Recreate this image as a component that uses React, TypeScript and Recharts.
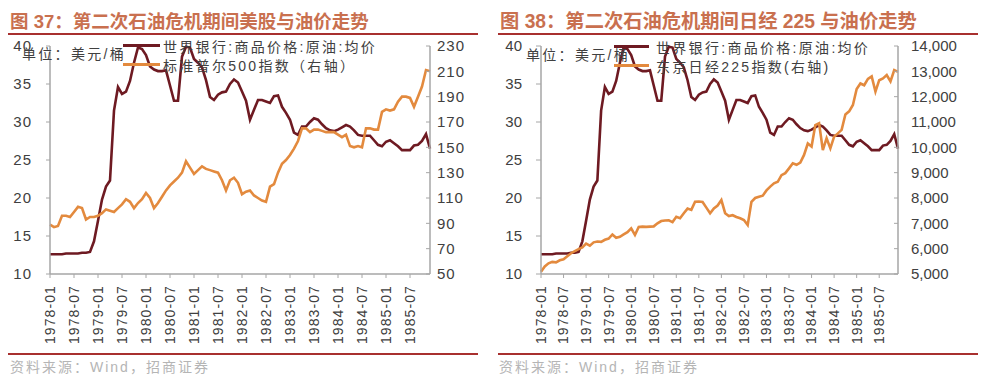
import React from 'react';
import { LineChart, Line, XAxis, YAxis, Legend } from 'recharts';

const FONT = '"Liberation Sans", Arial, "Noto Sans CJK SC", sans-serif';

const years = [1978, 1979, 1980, 1981, 1982, 1983, 1984, 1985];
const monthCodes = ['01', '02', '03', '04', '05', '06', '07', '08', '09', '10', '11', '12'];
const dates = years.flatMap((y) => monthCodes.map((m) => `${y}-${m}`));

// 世界银行:商品价格:原油:均价 (美元/桶)
const oilPrice = [
  12.6, 12.6, 12.6, 12.6, 12.7, 12.7, 12.7, 12.7, 12.8, 12.8,
  12.9, 14.3, 17.0, 19.8, 21.5, 22.3, 31.5, 34.6, 33.7, 34.0,
  35.4, 37.8, 39.8, 39.6, 38.8, 37.3, 36.9, 36.7, 36.7, 36.8,
  34.8, 32.8, 32.8, 38.6, 39.9, 39.8, 38.3, 37.8, 37.2, 35.5,
  33.3, 32.9, 33.6, 33.9, 34.0, 35.0, 35.6, 35.2, 34.0, 32.8,
  30.3, 31.6, 32.9, 32.9, 32.7, 32.5, 33.4, 33.5, 32.0, 31.2,
  30.3, 28.6, 28.3, 29.4, 29.4, 30.0, 30.5, 30.3, 29.7, 29.2,
  28.9, 28.8, 29.0, 29.3, 29.6, 29.4, 28.9, 28.3, 28.2, 28.2,
  28.2, 27.6, 27.0, 26.8, 27.4, 27.6, 27.2, 26.8, 26.3, 26.3,
  26.3, 26.9, 27.0, 27.5, 28.4, 26.5,
];

// 标准普尔500指数
const sp500 = [
  89, 87, 88, 96, 96, 95, 99, 103, 102, 93,
  95, 95, 96, 98, 101, 100, 99, 102, 105, 109,
  107, 102, 106, 109, 114, 110, 102, 106, 111, 116,
  120, 123, 126, 130, 139, 134, 129, 132, 135, 133,
  132, 131, 130, 124, 116, 124, 126, 122, 113, 115,
  116, 112, 110, 108, 107, 119, 121, 130, 137, 140,
  144, 149, 155, 165, 165, 162, 164, 164, 163, 162,
  162, 162, 160, 158, 160, 151, 150, 151, 150, 165,
  165, 164, 164, 178, 180, 179, 180, 186, 190, 190,
  189, 182, 190, 198, 211, 210,
];

// 东京日经225指数
const nikkei225 = [
  5090, 5300, 5420, 5480, 5460, 5540, 5580, 5700, 5820, 5900,
  5980, 6050, 6200, 6120, 6250, 6280, 6270, 6350, 6400, 6560,
  6430, 6470, 6560, 6650, 6800, 6540, 6860, 6870, 6860, 6870,
  6880, 7000, 7090, 7110, 7120, 7050, 7260, 7200, 7400, 7580,
  7530, 7850, 7860, 7840, 7620, 7400, 7590, 7700, 7920, 7400,
  7290, 7320, 7250, 7200, 7130, 6930, 7850, 8000, 8050, 8090,
  8300, 8450, 8580, 8640, 8900, 8980, 9170, 9370, 9310, 9400,
  9700, 10150, 10030, 10880, 10950, 9890, 10360, 9960, 10420, 10550,
  10690, 11300, 11420, 11670, 12300, 12520, 12450, 12700, 12800, 12200,
  12650, 12720, 12850, 12600, 13050, 12980,
];

const oilTicks = [10, 15, 20, 25, 30, 35, 40];
const spTicks = [50, 70, 90, 110, 130, 150, 170, 190, 210, 230];
const nikkeiTicks = [5000, 6000, 7000, 8000, 9000, 10000, 11000, 12000, 13000, 14000];

const oilName = '世界银行:商品价格:原油:均价';
const spName = '标准普尔500指数（右轴）';
const nikkeiName = '东京日经225指数(右轴)';

const usData = dates.map((d, i) => ({ date: d, oil: oilPrice[i], sp: sp500[i] }));
const jpData = dates.map((d, i) => ({ date: d, oil: oilPrice[i], nk: nikkei225[i] }));

const OIL_COLOR = '#6e1a22';
const IDX_COLOR = '#e38a3e';
const AXIS_COLOR = '#a6a6a6';
const TEXT_COLOR = '#404040';

const XTick = (props: any) => {
  const { x, y, payload } = props;
  return (
    <text
      x={x}
      y={y}
      transform={`rotate(-90, ${x}, ${y})`}
      textAnchor="end"
      dy="0.35em"
      fontSize={14}
      letterSpacing={1.1}
      fill={TEXT_COLOR}
      fontFamily={FONT}
    >
      {payload.value}
    </text>
  );
};

const makeLegend = (swatchW: number, gap: number) => (props: any) => {
  const payload = props.payload || [];
  return (
    <div style={{ fontFamily: FONT, fontSize: 14, color: TEXT_COLOR, letterSpacing: 2.3 }}>
      {payload.map((e: any) => (
        <div
          key={e.value}
          style={{ display: 'flex', alignItems: 'center', height: 19, whiteSpace: 'nowrap' }}
        >
          <span
            style={{
              display: 'inline-block',
              width: swatchW,
              height: 3,
              background: e.color,
              marginRight: gap,
            }}
          />
          <span>{e.value}</span>
        </div>
      ))}
    </div>
  );
};

const titleStyle = (left: number, size: number): React.CSSProperties => ({
  position: 'absolute',
  left,
  top: 12,
  fontFamily: FONT,
  fontSize: size,
  lineHeight: '20px',
  fontWeight: 700,
  color: '#c9704f',
  whiteSpace: 'nowrap',
});

const ruleStyle = (left: number, top: number, width: number): React.CSSProperties => ({
  position: 'absolute',
  left,
  top,
  width,
  height: 2,
  background: '#a8302f',
});

const sourceStyle = (left: number): React.CSSProperties => ({
  position: 'absolute',
  left,
  top: 359,
  fontFamily: FONT,
  fontSize: 14,
  lineHeight: '16px',
  letterSpacing: 2,
  color: '#b5b5b5',
  whiteSpace: 'nowrap',
});

const unitStyle = (left: number, top: number): React.CSSProperties => ({
  position: 'absolute',
  left,
  top,
  fontFamily: FONT,
  fontSize: 14,
  lineHeight: '16px',
  letterSpacing: 2.3,
  color: TEXT_COLOR,
  whiteSpace: 'nowrap',
});

export default function App() {
  return (
    <div
      style={{
        position: 'absolute',
        left: 0,
        top: 0,
        width: 984,
        height: 379,
        background: '#ffffff',
        overflow: 'hidden',
      }}
    >
      <div style={titleStyle(10, 18.5)}>图 37：第二次石油危机期间美股与油价走势</div>
      <div style={ruleStyle(8, 33, 470)} />
      <div style={titleStyle(500, 19.3)}>图 38：第二次石油危机期间日经 225 与油价走势</div>
      <div style={ruleStyle(498, 33, 480)} />

      <div style={{ position: 'absolute', left: 0, top: 0 }}>
        <LineChart
          width={490}
          height={379}
          data={usData}
          margin={{ top: 46, left: 10, right: 10, bottom: 35 }}
        >
          <XAxis
            dataKey="date"
            interval={5}
            height={70}
            tickSize={4}
            tickMargin={7}
            tick={<XTick />}
            axisLine={{ stroke: AXIS_COLOR, strokeWidth: 1.5 }}
            tickLine={{ stroke: AXIS_COLOR }}
          />
          <YAxis
            yAxisId="left"
            domain={[10, 40]}
            ticks={oilTicks}
            width={40}
            tickSize={4}
            tickMargin={14}
            axisLine={{ stroke: AXIS_COLOR, strokeWidth: 1.5 }}
            tickLine={{ stroke: AXIS_COLOR }}
            tick={{ fontSize: 15, fill: TEXT_COLOR, fontFamily: FONT, letterSpacing: 1 }}
          />
          <YAxis
            yAxisId="right"
            orientation="right"
            domain={[50, 230]}
            ticks={spTicks}
            width={50}
            tickSize={-4}
            tickMargin={11}
            axisLine={{ stroke: AXIS_COLOR, strokeWidth: 1.5 }}
            tickLine={{ stroke: AXIS_COLOR }}
            tick={{ fontSize: 15, fill: TEXT_COLOR, fontFamily: FONT, letterSpacing: 1, textAnchor: 'start' }}
          />
          <Legend
            verticalAlign="middle"
            align="center"
            layout="horizontal"
            wrapperStyle={{ top: 36, left: 123, width: 'auto' }}
            content={makeLegend(37, 3)}
          />
          <Line
            yAxisId="left"
            name={oilName}
            dataKey="oil"
            type="linear"
            stroke={OIL_COLOR}
            strokeWidth={2.6}
            dot={false}
            isAnimationActive={false}
          />
          <Line
            yAxisId="right"
            name={spName}
            dataKey="sp"
            type="linear"
            stroke={IDX_COLOR}
            strokeWidth={2.6}
            dot={false}
            isAnimationActive={false}
          />
        </LineChart>
      </div>

      <div style={{ position: 'absolute', left: 490, top: 0 }}>
        <LineChart
          width={494}
          height={379}
          data={jpData}
          margin={{ top: 46, left: 11, right: 26, bottom: 35 }}
        >
          <XAxis
            dataKey="date"
            interval={5}
            height={70}
            tickSize={4}
            tickMargin={7}
            tick={<XTick />}
            axisLine={{ stroke: AXIS_COLOR, strokeWidth: 1.5 }}
            tickLine={{ stroke: AXIS_COLOR }}
          />
          <YAxis
            yAxisId="left"
            domain={[10, 40]}
            ticks={oilTicks}
            width={40}
            tickSize={5}
            tickMargin={14}
            axisLine={{ stroke: AXIS_COLOR, strokeWidth: 1.5 }}
            tickLine={{ stroke: AXIS_COLOR }}
            tick={{ fontSize: 15, fill: TEXT_COLOR, fontFamily: FONT }}
          />
          <YAxis
            yAxisId="right"
            orientation="right"
            domain={[5000, 14000]}
            ticks={nikkeiTicks}
            width={60}
            tickSize={-4}
            tickMargin={17}
            tickFormatter={(v: number) => v.toLocaleString('en-US')}
            axisLine={{ stroke: AXIS_COLOR, strokeWidth: 1.5 }}
            tickLine={{ stroke: AXIS_COLOR }}
            tick={{ fontSize: 15, fill: TEXT_COLOR, fontFamily: FONT, textAnchor: 'start' }}
          />
          <Legend
            verticalAlign="middle"
            align="center"
            layout="horizontal"
            wrapperStyle={{ top: 37, left: 124, width: 'auto' }}
            content={makeLegend(35, 7)}
          />
          <Line
            yAxisId="left"
            name={oilName}
            dataKey="oil"
            type="linear"
            stroke={OIL_COLOR}
            strokeWidth={2.6}
            dot={false}
            isAnimationActive={false}
          />
          <Line
            yAxisId="right"
            name={nikkeiName}
            dataKey="nk"
            type="linear"
            stroke={IDX_COLOR}
            strokeWidth={2.6}
            dot={false}
            isAnimationActive={false}
          />
        </LineChart>
      </div>

      <div style={unitStyle(22, 46)}>单位：美元/桶</div>
      <div style={unitStyle(526, 47)}>单位：美元/桶</div>

      <div style={ruleStyle(8, 353, 470)} />
      <div style={ruleStyle(498, 353, 480)} />
      <div style={sourceStyle(10)}>资料来源：Wind，招商证券</div>
      <div style={sourceStyle(499)}>资料来源：Wind，招商证券</div>
    </div>
  );
}
